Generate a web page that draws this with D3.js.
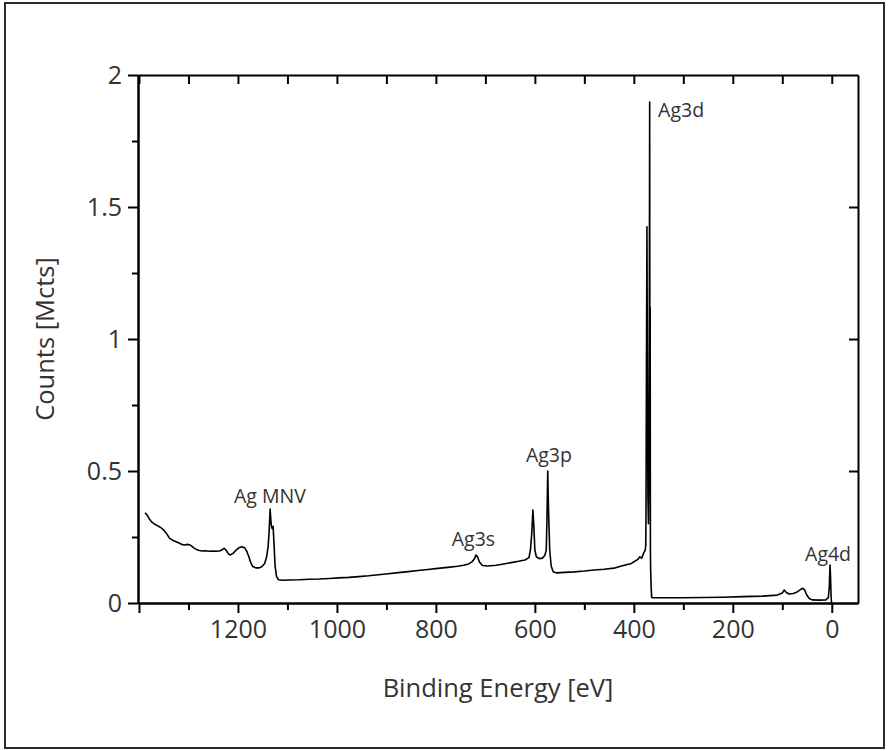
<!DOCTYPE html>
<html>
<head>
<meta charset="utf-8">
<script src="https://cdn.jsdelivr.net/npm/d3@7"></script>
<style>
  body { margin: 0; background: #fff; }
  text { font-family: "Open Sans", sans-serif; fill: #333; }
</style>
</head>
<body>
<div id="chart"></div>
<script>
// survey spectrum (eV, Mcts)
const bindingEnergy = [
  1388, 1384, 1379, 1374, 1368, 1362, 1356, 1350, 1344, 1338, 1332, 1326, 1320, 1314,
  1308, 1302, 1296, 1290, 1284, 1278, 1272, 1266, 1258, 1250, 1242, 1236, 1232, 1228,
  1224, 1220, 1216, 1210, 1204, 1198, 1192, 1186, 1182, 1178, 1174, 1170, 1164, 1158,
  1152, 1146, 1142, 1139, 1137, 1135, 1133, 1131, 1129, 1127, 1125, 1122, 1118, 1111,
  1096, 1076, 1056, 1036, 1016, 996, 976, 956, 936, 916, 896, 876, 856, 836, 816, 796,
  776, 756, 744, 734, 727, 722, 719, 716, 712, 706, 695, 678, 663, 648, 633, 620, 612,
  609, 606, 604, 602, 600, 597, 591, 585, 580, 577, 575.5, 574, 572.5, 570, 567, 563,
  556, 540, 520, 500, 480, 460, 440, 425, 415, 405, 398, 392, 388, 384, 380, 377, 376,
  375.5, 374.5, 373.5, 372.5, 371.5, 370.5, 369.5, 368.5, 368, 367.5, 367, 366.5, 366,
  365, 364, 362, 340, 300, 260, 220, 180, 140, 110, 100, 96, 92, 86, 78, 70, 64, 59,
  55, 51, 46, 40, 25, 12, 7, 5, 3.5, 2.5, 1.5, 0.5
];
const countsMcts = [
  0.342, 0.335, 0.318, 0.306, 0.298, 0.292, 0.286, 0.276, 0.262, 0.245, 0.238, 0.233, 0.228, 0.222,
  0.220, 0.222, 0.219, 0.210, 0.203, 0.199, 0.197, 0.198, 0.196, 0.197, 0.196, 0.198, 0.202, 0.207,
  0.200, 0.188, 0.182, 0.188, 0.200, 0.209, 0.213, 0.208, 0.195, 0.175, 0.152, 0.138, 0.133, 0.133,
  0.137, 0.150, 0.175, 0.215, 0.270, 0.356, 0.300, 0.282, 0.290, 0.220, 0.140, 0.100, 0.088, 0.086,
  0.087, 0.088, 0.090, 0.091, 0.093, 0.095, 0.097, 0.100, 0.103, 0.107, 0.111, 0.115, 0.119, 0.123, 0.127, 0.131,
  0.135, 0.139, 0.143, 0.148, 0.156, 0.168, 0.182, 0.175, 0.155, 0.142, 0.140, 0.143, 0.148, 0.153, 0.158, 0.163, 0.172,
  0.200, 0.270, 0.352, 0.290, 0.200, 0.175, 0.168, 0.170, 0.180, 0.200, 0.320, 0.500, 0.360, 0.200, 0.140, 0.118,
  0.114, 0.116, 0.118, 0.121, 0.125, 0.128, 0.132, 0.140, 0.145, 0.150, 0.158, 0.165, 0.175, 0.170, 0.190, 0.200, 0.215,
  0.300, 0.900, 1.425, 0.800, 0.400, 0.300, 0.500, 1.300, 1.898, 0.670, 1.120, 0.200, 0.120,
  0.060, 0.022, 0.020, 0.020, 0.020, 0.021, 0.022, 0.024, 0.026, 0.030, 0.038, 0.049, 0.040, 0.034, 0.036, 0.042, 0.050, 0.056,
  0.050, 0.032, 0.018, 0.012, 0.011, 0.012, 0.020, 0.060, 0.144, 0.100, 0.030, 0.000
];

const xMajorTicks = [1400, 1200, 1000, 800, 600, 400, 200, 0];
const xMinorTicks = [1300, 1100, 900, 700, 500, 300, 100];
const yMajorTicks = [0, 0.5, 1, 1.5, 2];
const yMinorTicks = [0.25, 0.75, 1.25, 1.75];

const peakNames = ["Ag MNV", "Ag3s", "Ag3p", "Ag3d", "Ag4d"];
const peakLabelEnergy = [1208, 768, 618, 351, 54];
const peakLabelCounts = [0.379, 0.216, 0.534, 1.84, 0.159];

const width = 891;
const height = 751;
const plot = { left: 138, right: 858, top: 75, bottom: 603 };

const svg = d3.select("#chart").append("svg")
  .attr("width", width)
  .attr("height", height);

// outer frame
svg.append("rect")
  .attr("x", 5).attr("y", 3)
  .attr("width", 879).attr("height", 745)
  .attr("fill", "none")
  .attr("stroke", "#2a2a2a")
  .attr("stroke-width", 2);

const x = d3.scaleLinear([1402, -53], [plot.left, plot.right]);
const y = d3.scaleLinear([0, 2], [plot.bottom, plot.top]);

function styleAxis(g) {
  g.select(".domain").attr("stroke", "#000").attr("stroke-width", 2);
  g.selectAll(".tick line").attr("stroke", "#000").attr("stroke-width", 2);
  g.selectAll(".tick text").attr("font-size", 25).attr("fill", "#333")
    .attr("font-family", "'Open Sans', sans-serif");
}

// bottom
svg.append("g")
  .attr("transform", `translate(0,${plot.bottom})`)
  .call(d3.axisBottom(x).tickValues(xMinorTicks).tickSize(7).tickFormat("").tickSizeOuter(0))
  .call(styleAxis);
svg.append("g")
  .attr("transform", `translate(0,${plot.bottom})`)
  .call(d3.axisBottom(x).tickValues(xMajorTicks).tickSize(10).tickPadding(7)
    .tickFormat(d => (d === 1400 ? "" : d)).tickSizeOuter(0))
  .call(styleAxis);

// top (inward ticks)
svg.append("g")
  .attr("transform", `translate(0,${plot.top})`)
  .call(d3.axisTop(x).tickValues(xMajorTicks.concat(xMinorTicks)).tickSize(-9).tickFormat("").tickSizeOuter(0))
  .call(styleAxis);

// left
svg.append("g")
  .attr("transform", `translate(${plot.left},0)`)
  .call(d3.axisLeft(y).tickValues(yMinorTicks).tickSize(6).tickFormat("").tickSizeOuter(0))
  .call(styleAxis);
svg.append("g")
  .attr("transform", `translate(${plot.left},0)`)
  .call(d3.axisLeft(y).tickValues(yMajorTicks).tickSize(10).tickPadding(6)
    .tickFormat(d3.format("~g")).tickSizeOuter(0))
  .call(styleAxis);

// right (inward ticks)
svg.append("g")
  .attr("transform", `translate(${plot.right},0)`)
  .call(d3.axisRight(y).tickValues(yMajorTicks.slice(1, 4)).tickSize(-9).tickFormat("").tickSizeOuter(0))
  .call(styleAxis);

// spectrum
const line = d3.line()
  .x((d, i) => x(bindingEnergy[i]))
  .y((d, i) => y(countsMcts[i]));

svg.append("path")
  .datum(bindingEnergy)
  .attr("d", line)
  .attr("fill", "none")
  .attr("stroke", "#000")
  .attr("stroke-width", 1.6)
  .attr("stroke-linejoin", "round");

// peak labels
svg.selectAll(".peak")
  .data(peakNames)
  .enter()
  .append("text")
  .attr("class", "peak")
  .attr("x", (d, i) => x(peakLabelEnergy[i]))
  .attr("y", (d, i) => y(peakLabelCounts[i]))
  .attr("font-size", 19.5)
  .text(d => d);

// axis titles
svg.append("text")
  .attr("x", (plot.left + plot.right) / 2)
  .attr("y", 697)
  .attr("text-anchor", "middle")
  .attr("font-size", 25.5)
  .text("Binding Energy [eV]");

svg.append("text")
  .attr("transform", `translate(54,${(plot.top + plot.bottom) / 2}) rotate(-90)`)
  .attr("text-anchor", "middle")
  .attr("font-size", 25.5)
  .text("Counts [Mcts]");
</script>
</body>
</html>
